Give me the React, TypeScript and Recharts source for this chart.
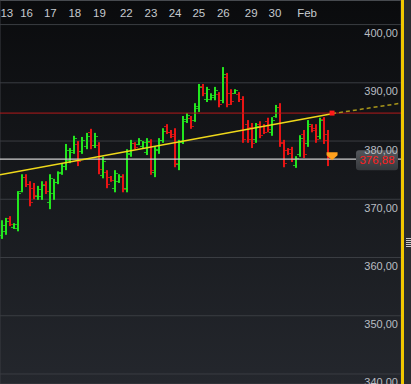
import { ComposedChart, Bar, XAxis, YAxis, CartesianGrid, ReferenceLine, ReferenceDot } from 'recharts';

// hourly OHLC bars
const lows = [
  363.2, 363.9, 365.4, 364.9, 364.5, 371.2, 372.1, 368.8, 370.0, 369.9,
  369.9, 370.9, 368.3, 369.9, 372.6, 374.2, 375.0, 376.2, 377.8, 375.7,
  377.8, 378.6, 378.6, 378.8, 374.3, 373.6, 371.9, 373.0, 371.2, 372.8,
  371.2, 371.2, 377.3, 378.6, 379.3, 378.8, 377.6, 374.2, 373.8, 377.8,
  379.7, 381.2, 380.5, 375.5, 375.0, 379.5, 383.1, 382.1, 383.3, 385.0,
  387.7, 386.7, 387.0, 387.0, 385.8, 386.5, 385.8, 386.2, 388.1, 386.7,
  379.7, 379.7, 378.8, 379.7, 380.5, 381.2, 381.5, 380.9, 384.0, 379.0,
  375.5, 377.6, 376.4, 375.4, 377.3, 377.1, 379.0, 381.5, 379.7, 380.3,
  379.5, 375.7,
];
const highs = [
  366.4, 366.8, 367.1, 365.9, 371.4, 374.3, 374.3, 373.1, 372.8, 372.3,
  373.1, 373.1, 374.3, 373.5, 374.8, 376.2, 379.5, 378.8, 380.9, 380.0,
  380.7, 381.4, 382.1, 381.4, 379.8, 377.3, 375.0, 374.0, 375.0, 374.3,
  374.3, 378.6, 380.2, 379.8, 380.5, 380.0, 380.5, 380.3, 379.1, 380.5,
  382.2, 382.9, 381.9, 382.2, 380.2, 384.3, 384.8, 384.3, 386.5, 389.8,
  389.8, 389.3, 388.2, 389.3, 388.4, 392.7, 391.7, 388.9, 388.9, 388.4,
  387.7, 383.6, 383.1, 383.1, 383.4, 382.9, 384.0, 384.1, 386.2, 386.5,
  380.2, 378.8, 379.0, 377.4, 381.0, 381.9, 383.6, 382.9, 382.9, 384.0,
  384.1, 381.9,
];
const opens = [
  363.8, 364.5, 366.8, 365.2, 365.0, 371.5, 373.8, 372.6, 372.0, 370.5,
  370.6, 372.6, 369.5, 371.0, 373.0, 374.6, 375.8, 376.8, 378.2, 379.5,
  378.3, 379.1, 381.5, 379.3, 379.3, 374.2, 374.6, 373.8, 372.0, 373.2,
  373.8, 372.0, 377.8, 379.6, 379.5, 379.1, 378.2, 379.8, 374.6, 378.4,
  380.2, 382.6, 381.6, 381.2, 376.0, 380.0, 383.4, 384.0, 383.6, 385.6,
  389.4, 387.2, 387.3, 387.5, 388.0, 387.0, 391.0, 388.3, 388.3, 388.1,
  387.2, 383.0, 382.4, 380.3, 382.9, 382.6, 383.4, 381.5, 384.3, 385.9,
  379.7, 378.5, 378.6, 375.9, 377.7, 381.2, 379.6, 382.6, 382.3, 380.9,
  383.7, 381.2,
];
const closes = [
  365.5, 366.2, 365.8, 365.7, 371.0, 373.8, 372.6, 369.5, 370.8, 371.8,
  372.5, 371.5, 373.6, 372.9, 374.5, 375.8, 378.5, 378.4, 380.5, 376.5,
  380.2, 380.9, 379.3, 380.8, 375.2, 376.6, 372.6, 373.3, 374.5, 374.0,
  371.8, 378.0, 379.7, 379.0, 380.2, 379.8, 380.0, 375.0, 378.6, 380.1,
  381.8, 381.6, 380.9, 376.3, 379.8, 383.8, 384.4, 382.6, 386.0, 389.2,
  388.2, 388.9, 387.9, 388.8, 386.3, 391.5, 386.4, 386.8, 388.7, 387.2,
  380.4, 380.3, 379.6, 382.5, 381.0, 381.6, 382.0, 383.6, 385.8, 379.8,
  376.3, 377.9, 376.9, 377.1, 380.6, 377.7, 383.0, 381.9, 380.3, 383.6,
  380.2, 376.9,
];

// first bar of each trading day (index), used for the vertical grid
const dayStarts = [3, 9, 15, 21, 28, 34, 40, 46, 52, 59, 65, 72, 82];
const dayLabels = ['13', '16', '17', '18', '19', '22', '23', '24', '25', '26', '29', '30', 'Feb'];
const dayLabelPos = [1.2, 6.1, 12, 18.1, 24.2, 30.9, 37, 43, 48.9, 55, 61.9, 67.8, 75.8];

const priceTicks = [340, 350, 360, 370, 380, 390, 400];
const lastPrice = 376.88;
const resistance = 384.8;
const trendStart = { x: -0.5, y: 374.2 };
const trendAnchor = { x: 82, y: 384.7 };
const trendEnd = { x: 99.13, y: 386.5 };

const X_DOMAIN: [number, number] = [-0.5, 99.13];

const data = lows.map((lo, i) => ({
  i,
  range: [lo, highs[i]],
  open: opens[i],
  close: closes[i],
}));

const FONT = '"Liberation Sans", Arial, sans-serif';

const OhlcShape = (props: any) => {
  const { x, y, width, height, payload } = props;
  if (x == null || y == null) return null;
  const [lo, hi] = payload.range;
  const cx = Math.round(x + width / 2);
  const k = hi === lo ? 0 : height / (hi - lo);
  const yo = Math.round(y + (hi - payload.open) * k);
  const yc = Math.round(y + (hi - payload.close) * k);
  const color = payload.close >= payload.open ? '#22e61e' : '#e81414';
  return (
    <g>
      <rect x={cx - 1} y={y} width={2} height={Math.max(height, 1)} fill={color} />
      <rect x={cx - 3} y={yo} width={2} height={1} fill={color} opacity={0.8} />
      <rect x={cx + 1} y={yc} width={2} height={1} fill={color} opacity={0.8} />
    </g>
  );
};

const PriceTag = ({ viewBox }: any) => {
  if (!viewBox) return null;
  const right = viewBox.x + viewBox.width - 3;
  return (
    <g>
      <defs>
        <linearGradient id="tagFill" x1="0" y1="0" x2="0" y2="1">
          <stop offset="0%" stopColor="#54575c" />
          <stop offset="100%" stopColor="#35383c" />
        </linearGradient>
      </defs>
      <rect x={right - 42} y={viewBox.y - 9} width={42} height={20} rx={3} fill="url(#tagFill)" />
      <text x={right - 21} y={viewBox.y + 1} textAnchor="middle" dominantBaseline="central"
        fill="#ff1e1e" fontSize={11.5} fontFamily={FONT}>
        {lastPrice.toFixed(2).replace('.', ',')}
      </text>
    </g>
  );
};

const App = () => {
  return (
    <div style={{
      position: 'fixed', left: 0, top: 0, width: 411, height: 384, overflow: 'hidden',
      background: 'linear-gradient(#0a0b0d, #24272d)',
    }}>
      <div style={{ position: 'absolute', left: 0, top: 0, width: 401, height: 1, background: '#55585d' }} />
      <ComposedChart width={401} height={384} data={data} margin={{ top: 0, right: 0, bottom: 0, left: 0 }}>
        <CartesianGrid stroke="#3a3d42" strokeWidth={1} />
        <XAxis dataKey="i" type="number" domain={X_DOMAIN} allowDataOverflow
          ticks={dayStarts} interval={0} tick={false} tickLine={false} axisLine={false} height={0} />
        <XAxis xAxisId="labels" dataKey="i" orientation="top" mirror type="number" domain={X_DOMAIN}
          allowDataOverflow ticks={dayLabelPos} interval={0} tickLine={false} axisLine={false}
          tick={({ x, index }: any) => (
            <text x={x} y={13} textAnchor="middle" dominantBaseline="central" fill="#c6cace"
              fontSize={11.5} fontFamily={FONT}>{dayLabels[index]}</text>
          )} />
        <YAxis orientation="right" mirror domain={[338.28, 404.22]} allowDataOverflow ticks={priceTicks}
          interval={0} tickLine={false} axisLine={false}
          tick={({ y, payload }: any) => (
            <text x={398} y={y + 8.5} textAnchor="end" dominantBaseline="central" fill="#b9bdc2"
              fontSize={11} fontFamily={FONT}>{Number(payload.value).toFixed(2).replace('.', ',')}</text>
          )} />
        <Bar dataKey="range" barSize={2} isAnimationActive={false}
          shape={(p: any) => <OhlcShape {...p} />} />
        <ReferenceLine y={resistance} stroke="#b3191b" strokeWidth={1} />
        <ReferenceLine y={lastPrice} stroke="#cfcfcf" strokeWidth={1.2}
          label={(p: any) => <PriceTag viewBox={p.viewBox} />} />
        <ReferenceLine segment={[trendStart, trendAnchor]} stroke="#efd81a" strokeWidth={1.5} />
        <ReferenceLine segment={[trendAnchor, trendEnd]} stroke="#a8961a" strokeWidth={1.5}
          strokeDasharray="4 3" />
        <ReferenceDot x={trendAnchor.x} y={resistance} r={3}
          shape={(p: any) => <rect x={p.cx - 2.5} y={p.cy - 2.5} width={5} height={5} fill="#ff1a1a" />} />
        <ReferenceDot x={trendAnchor.x} y={lastPrice} r={5}
          shape={(p: any) => (
            <polygon
              points={`${p.cx - 5.5},${p.cy - 7} ${p.cx + 5.5},${p.cy - 7} ${p.cx + 5.5},${p.cy - 4} ${p.cx},${p.cy + 1} ${p.cx - 5.5},${p.cy - 4}`}
              fill="#ffa11e" />
          )} />
      </ComposedChart>
      <div style={{ position: 'absolute', left: 401, top: 0, width: 2.5, height: 384, background: '#f2c800' }} />
      <div style={{ position: 'absolute', left: 403.5, top: 0, width: 8, height: 384, background: '#2a2c30' }} />
      {[0, 2, 4, 6, 8].map((d) => (
        <div key={d} style={{ position: 'absolute', left: 406, top: 238 + d, width: 5, height: 1, background: '#c8c8c8' }} />
      ))}
    </div>
  );
};

export default App;
